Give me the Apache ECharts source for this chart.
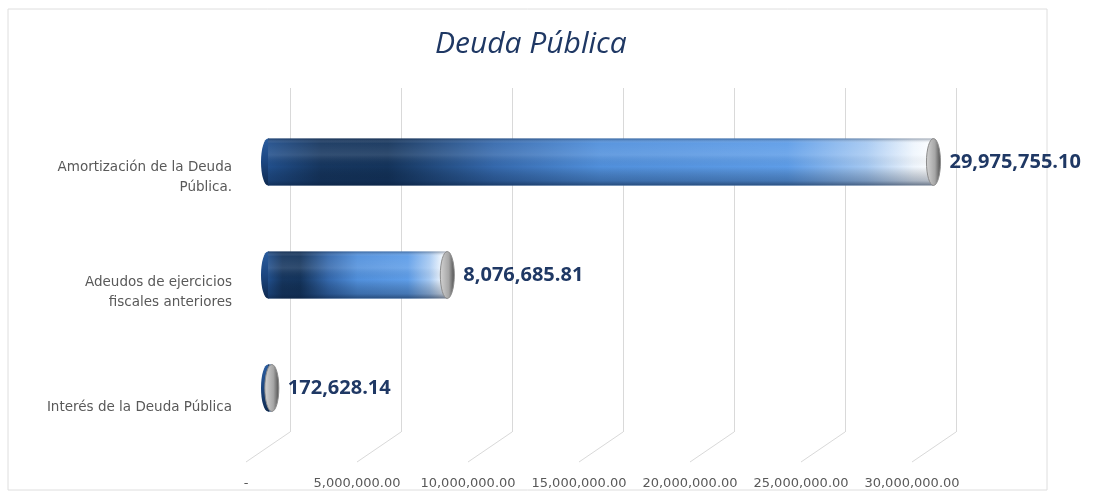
<!DOCTYPE html>
<html>
<head>
<meta charset="utf-8">
<title>Deuda Pública</title>
<script src="https://cdn.jsdelivr.net/npm/echarts@6/dist/echarts.min.js"></script>
<style>
  html, body { margin: 0; padding: 0; background: #fff; }
  #chart { width: 1097px; height: 500px; }
</style>
</head>
<body>
<div id="chart"></div>
<script>
// datos
var categorias = ['Amortización de la Deuda\nPública.', 'Adeudos de ejercicios\nfiscales anteriores', 'Interés de la Deuda Pública'];
var valores = [29975755.10, 8076685.81, 172628.14];
var ejeMin = 0;
var ejeMax = 30000000;
var ejeIntervalo = 5000000;
var marcas = [0, 5000000, 10000000, 15000000, 20000000, 25000000, 30000000];

function fmt(v) {
	return v.toLocaleString('en-US', { minimumFractionDigits: 2, maximumFractionDigits: 2 });
}

var myChart = echarts.init(document.getElementById('chart'));

// cilindro para cada barra
function cilindro(params, api) {
	var cat = api.value(1);
	var p0 = api.coord([0, cat]);
	var p1 = api.coord([api.value(0), cat]);
	var x0 = p0[0], x1 = p1[0], cy = p0[1];
	var h = 47, rx = 7;
	var w = Math.max(x1 - x0, 0.5);
	return {
		type: 'group',
		children: [
			{ type: 'ellipse', shape: { cx: x0, cy: cy, rx: rx, ry: h / 2 },
			  style: { fill: new echarts.graphic.LinearGradient(0, 0, 0, 1, [
				{ offset: 0, color: '#2a5c9e' }, { offset: 0.5, color: '#1c4680' }, { offset: 1, color: '#0f2a50' }]) } },
			{ type: 'rect', shape: { x: x0, y: cy - h / 2, width: w, height: h },
			  style: { fill: new echarts.graphic.LinearGradient(0, 0, 1, 0, [
				{ offset: 0, color: '#214f8c' },
				{ offset: 0.08, color: '#16365f' },
				{ offset: 0.18, color: '#14345c' },
				{ offset: 0.34, color: '#3569ad' },
				{ offset: 0.5, color: '#5190dc' },
				{ offset: 0.78, color: '#5e9de8' },
				{ offset: 0.9, color: '#a6c9f2' },
				{ offset: 0.97, color: '#eef5fd' },
				{ offset: 1, color: '#ffffff' }]) } },
			{ type: 'rect', shape: { x: x0, y: cy - h / 2, width: w, height: h },
			  style: { fill: new echarts.graphic.LinearGradient(0, 0, 0, 1, [
				{ offset: 0, color: 'rgba(10,30,60,0.4)' },
				{ offset: 0.1, color: 'rgba(255,255,255,0.05)' },
				{ offset: 0.35, color: 'rgba(255,255,255,0.12)' },
				{ offset: 0.6, color: 'rgba(0,0,0,0)' },
				{ offset: 0.9, color: 'rgba(10,30,60,0.3)' },
				{ offset: 1, color: 'rgba(10,30,60,0.6)' }]) } },
			{ type: 'ellipse', shape: { cx: x1, cy: cy, rx: rx, ry: h / 2 },
			  style: { stroke: '#8c8c8c', lineWidth: 1,
			    fill: new echarts.graphic.LinearGradient(0, 0, 1, 0, [
				{ offset: 0, color: '#d4d4d4' }, { offset: 0.6, color: '#a6a6a6' }, { offset: 1, color: '#4a4a4a' }]) } },
			{ type: 'text', x: x1 + rx + 9, y: cy,
			  style: { text: fmt(api.value(0)), fill: '#1f3864', fontSize: 20, fontWeight: 'bold',
			    fontFamily: 'Open Sans', verticalAlign: 'middle', align: 'left' } }
		]
	};
}

// lineas diagonales del piso
function diagonal(params, api) {
	var p = api.coord([api.value(0), 0]);
	return {
		type: 'line',
		shape: { x1: p[0], y1: p[1], x2: p[0] - 44, y2: p[1] + 30 },
		style: { stroke: '#d9d9d9', lineWidth: 1 }
	};
}

var option = {
	backgroundColor: '#ffffff',
	animation: false,
	title: {
		text: 'Deuda Pública',
		left: 430,
		top: 24,
		textStyle: { fontFamily: 'Open Sans', fontStyle: 'italic', fontWeight: 'normal', fontSize: 30, color: '#1f3864' }
	},
	graphic: [{
		type: 'rect', shape: { x: 8, y: 9, width: 1039, height: 481 },
		style: { fill: 'none', stroke: '#dedede', lineWidth: 1 }, z: -1
	}],
	grid: [
		{ left: 290, right: 141, top: 88, bottom: 68 },
		{ left: 268, right: 163, top: 105.5, bottom: 55.5 },
		{ left: 246, right: 185, top: 120.5, bottom: 35.5 }
	],
	xAxis: [
		{ gridIndex: 0, type: 'value', min: ejeMin, max: ejeMax, interval: ejeIntervalo,
		  axisLine: { show: false }, axisTick: { show: false }, axisLabel: { show: false },
		  splitLine: { show: true, lineStyle: { color: '#d9d9d9', width: 1 } } },
		{ gridIndex: 1, type: 'value', min: ejeMin, max: ejeMax, interval: ejeIntervalo, show: false },
		{ gridIndex: 2, type: 'value', min: ejeMin, max: ejeMax, interval: ejeIntervalo,
		  axisLine: { show: false }, axisTick: { show: false }, splitLine: { show: false },
		  axisLabel: { margin: 13, color: '#595959', fontFamily: 'DejaVu Sans', fontSize: 13,
		    formatter: function(v) { return v === 0 ? '-' : fmt(v); } } }
	],
	yAxis: [
		{ gridIndex: 0, type: 'value', min: 0, max: 1, show: false },
		{ gridIndex: 1, type: 'category', data: categorias, inverse: true, show: false },
		{ gridIndex: 2, type: 'category', data: categorias, inverse: true,
		  axisLine: { show: false }, axisTick: { show: false },
		  axisLabel: { margin: 14, color: '#595959', fontFamily: 'DejaVu Sans', fontSize: 13.5, lineHeight: 20, align: 'right' } }
	],
	series: [
		{ type: 'custom', xAxisIndex: 0, yAxisIndex: 0, renderItem: diagonal,
		  data: marcas.map(function(m) { return [m]; }), silent: true },
		{ type: 'custom', xAxisIndex: 1, yAxisIndex: 1, renderItem: cilindro,
		  encode: { x: 0, y: 1 },
		  data: valores.map(function(v, i) { return [v, i]; }), z: 5 }
	]
};
myChart.setOption(option);
</script>
</body>
</html>
